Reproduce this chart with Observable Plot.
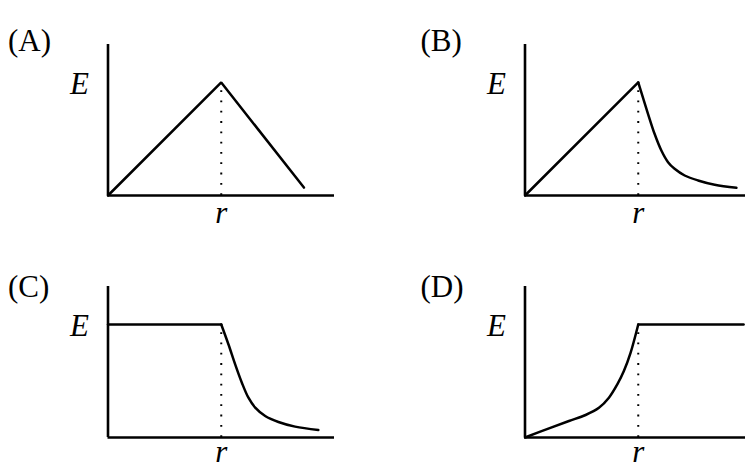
<!DOCTYPE html>
<html>
<head>
<meta charset="utf-8">
<script src="https://cdn.jsdelivr.net/npm/d3@7"></script>
<script src="https://cdn.jsdelivr.net/npm/@observablehq/plot@0.6"></script>
<style>
  html, body { margin: 0; padding: 0; background: #fff; }
  #fig { position: relative; width: 745px; height: 468px; overflow: hidden; background: #fff; }
</style>
</head>
<body>
<div id="fig"></div>
<script>
// Panel labels and axis labels
const panelLabels = ["(A)", "(B)", "(C)", "(D)"];
const yLabel = "E";
const xLabel = "r";

// Axis extents (in units where the marked radius r = 1 and the level E = 1)
const rMax = 2;
const EMax = 1.336;
const rMark = 1;

// Panel A: straight segments
const aStraightR = [0, 1, 1.73];
const aStraightE = [0, 1, 0.07];
const aCurveR = [];
const aCurveE = [];

// Panel B: linear rise then decay curve
const bStraightR = [0, 1];
const bStraightE = [0, 1];
const bCurveR = [1, 1.086, 1.144, 1.204, 1.263, 1.321, 1.410, 1.528, 1.675, 1.867];
const bCurveE = [1, 0.723, 0.546, 0.398, 0.295, 0.236, 0.177, 0.133, 0.095, 0.068];

// Panel C: constant then decay curve
const cStraightR = [0, 1];
const cStraightE = [1, 1];
const cCurveR = [1, 1.064, 1.123, 1.182, 1.240, 1.300, 1.388, 1.505, 1.652, 1.857];
const cCurveE = [1, 0.823, 0.647, 0.485, 0.352, 0.264, 0.190, 0.137, 0.096, 0.066];

// Panel D: rising curve then constant
const dStraightR = [1, 1.93];
const dStraightE = [1, 1];
const dCurveR = [0, 0.212, 0.388, 0.535, 0.653, 0.741, 0.815, 0.873, 0.932, 1];
const dCurveE = [0, 0.081, 0.146, 0.199, 0.263, 0.352, 0.470, 0.588, 0.749, 1];

const zip = (xs, ys) => xs.map((x, i) => ({r: x, E: ys[i]}));

const panels = [
  {label: panelLabels[0], straight: zip(aStraightR, aStraightE), curve: zip(aCurveR, aCurveE), left: 0, top: 0, ldx: 0, ldy: 0, rdy: 0},
  {label: panelLabels[1], straight: zip(bStraightR, bStraightE), curve: zip(bCurveR, bCurveE), left: 416.5, top: 0, ldx: -4.5, ldy: 0, rdy: 0},
  {label: panelLabels[2], straight: zip(cStraightR, cStraightE), curve: zip(cCurveR, cCurveE), left: 0, top: 242, ldx: 0, ldy: 4, rdy: -3},
  {label: panelLabels[3], straight: zip(dStraightR, dStraightE), curve: zip(dCurveR, dCurveE), left: 416.5, top: 242, ldx: -4.5, ldy: 4, rdy: -3}
];

const font = "'Liberation Serif', 'DejaVu Serif', serif";
const fs = 31;
const fig = document.getElementById("fig");

for (const p of panels) {
  const chart = Plot.plot({
    width: 372,
    height: 234,
    marginLeft: 107.5,
    marginRight: 38,
    marginTop: 44,
    marginBottom: 39,
    x: {domain: [0, rMax], axis: null},
    y: {domain: [0, EMax], axis: null},
    style: {background: "transparent", overflow: "visible", fontFamily: font},
    marks: [
      // axes
      Plot.ruleY([0], {x1: 0, x2: rMax, stroke: "black", strokeWidth: 2.6}),
      Plot.ruleX([0], {y1: 0, y2: EMax, stroke: "black", strokeWidth: 2.6}),
      // dotted marker at r
      Plot.ruleX([rMark], {y1: 0, y2: 1, stroke: "black", strokeWidth: 2, strokeDasharray: "1.8 8.5"}),
      // curves
      Plot.line(p.straight, {x: "r", y: "E", stroke: "black", strokeWidth: 2.5, curve: "linear", strokeLinejoin: "miter"}),
      Plot.line(p.curve, {x: "r", y: "E", stroke: "black", strokeWidth: 2.5, curve: "catmull-rom"}),
      // labels
      Plot.text([yLabel], {text: d => d, x: 0, y: 1, dx: -19, dy: 1.6, textAnchor: "end", fontSize: fs, fontStyle: "italic", fontFamily: font, fill: "black"}),
      Plot.text([xLabel], {text: d => d, x: rMark, y: 0, dy: 17.2 + p.rdy, textAnchor: "middle", fontSize: fs, fontStyle: "italic", fontFamily: font, fill: "black"}),
      Plot.text([p.label], {text: d => d, frameAnchor: "top-left", dx: -100 + p.ldx, dy: -15.9 + p.ldy, textAnchor: "start", fontSize: fs, fontFamily: font, fill: "black"})
    ]
  });
  chart.style.left = p.left + "px";
  chart.style.top = p.top + "px";
  chart.style.position = "absolute";
  fig.appendChild(chart);
}
</script>
</body>
</html>
